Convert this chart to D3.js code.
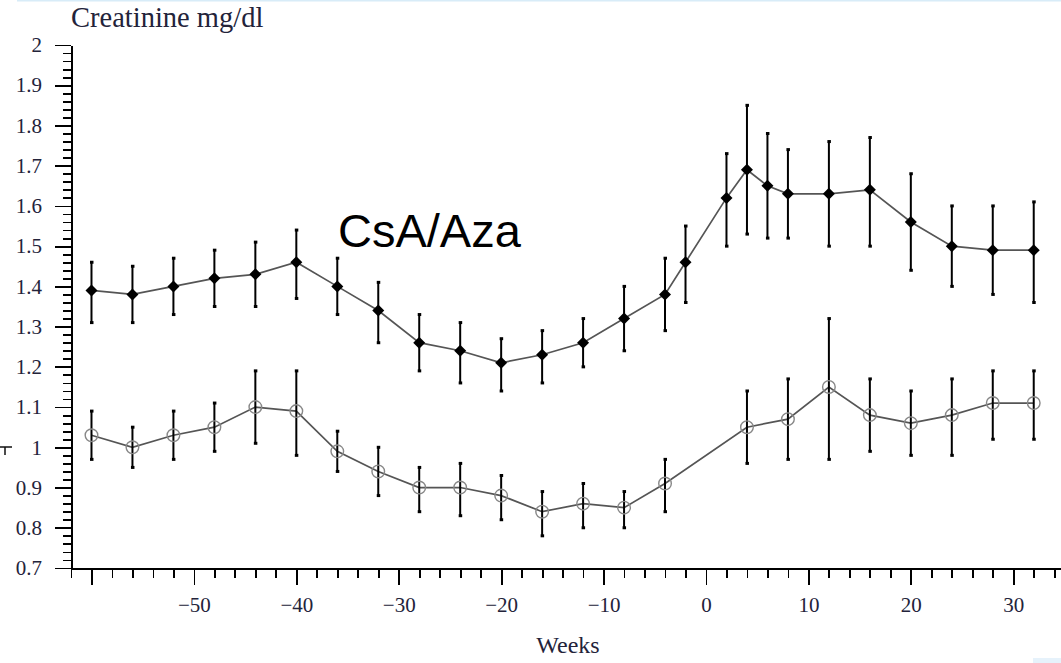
<!DOCTYPE html>
<html lang="en">
    <head>
        <meta charset="utf-8">
        <title>Creatinine mg/dl</title>
        <script type="text/javascript" src="https://cdn.jsdelivr.net/npm/d3@7"></script>
        <style type="text/css">
            body { margin: 0; background: #fff; }
            .axis path, .axis line {
                fill: none;
                stroke: black;
                shape-rendering: crispEdges;
            }
            .axis text {
                font-family: "Liberation Serif", "Times New Roman", serif;
                font-size: 21px;
                fill: #23233a;
            }
        </style>
    </head>
    <body>
        <script type="text/javascript">
            // weeks relative to conversion, CsA/Aza group (filled diamonds)
            var weeksA = [-60,-56,-52,-48,-44,-40,-36,-32,-28,-24,-20,-16,-12,-8,-4,-2,2,4,6,8,12,16,20,24,28,32];
            var meanA  = [1.39,1.38,1.40,1.42,1.43,1.46,1.40,1.34,1.26,1.24,1.21,1.23,1.26,1.32,1.38,1.46,1.62,1.69,1.65,1.63,1.63,1.64,1.56,1.50,1.49,1.49];
            var hiA    = [1.46,1.45,1.47,1.49,1.51,1.54,1.47,1.41,1.33,1.31,1.27,1.29,1.32,1.40,1.47,1.55,1.73,1.85,1.78,1.74,1.76,1.77,1.68,1.60,1.60,1.61];
            var loA    = [1.31,1.31,1.33,1.35,1.35,1.37,1.33,1.26,1.19,1.16,1.14,1.16,1.20,1.24,1.29,1.36,1.50,1.53,1.52,1.52,1.50,1.50,1.44,1.40,1.38,1.36];

            // second group (open circles)
            var weeksB = [-60,-56,-52,-48,-44,-40,-36,-32,-28,-24,-20,-16,-12,-8,-4,4,8,12,16,20,24,28,32];
            var meanB  = [1.03,1.00,1.03,1.05,1.10,1.09,0.99,0.94,0.90,0.90,0.88,0.84,0.86,0.85,0.91,1.05,1.07,1.15,1.08,1.06,1.08,1.11,1.11];
            var hiB    = [1.09,1.05,1.09,1.11,1.19,1.19,1.04,1.00,0.95,0.96,0.93,0.89,0.91,0.89,0.97,1.14,1.17,1.32,1.17,1.14,1.17,1.19,1.19];
            var loB    = [0.97,0.95,0.97,0.99,1.01,0.98,0.94,0.88,0.84,0.83,0.82,0.78,0.80,0.80,0.84,0.96,0.97,0.97,0.99,0.98,0.98,1.02,1.02];

            // tick values
            var xMajor = [-60,-50,-40,-30,-20,-10,0,10,20,30];
            var yMajor = [0.7,0.8,0.9,1.0,1.1,1.2,1.3,1.4,1.5,1.6,1.7,1.8,1.9,2.0];

            var width = 1061, height = 663;

            var svg = d3.select("body")
                        .append("svg")
                            .attr("width", width)
                            .attr("height", height);

            // scales - axis corner at (71,568)
            var x = d3.scaleLinear().domain([-62, 36]).range([71, 1074.7]);
            var y = d3.scaleLinear().domain([0.7, 2]).range([568, 45]);

            // thin light blue line along the top edge of the scan
            svg.append("rect")
                .attr("x", 17).attr("y", 0)
                .attr("width", width - 17).attr("height", 1.5)
                .style("fill", "#d8ecf8");
            svg.append("rect")
                .attr("x", 1033).attr("y", 658)
                .attr("width", 28).attr("height", 5)
                .style("fill", "#e6f2fb");

            // minor x ticks every 2 weeks
            svg.append("g")
                .attr("class", "axis")
                .attr("transform", "translate(0,568)")
                .call(d3.axisBottom(x).tickValues(d3.range(-62, 37, 2)).tickSize(10).tickSizeOuter(0).tickFormat(""))
                .call(function(g) { g.selectAll("line").style("stroke-width", 1.8); g.select(".domain").style("stroke-width", 2); });

            // major x ticks
            svg.append("g")
                .attr("class", "axis")
                .attr("transform", "translate(0,568)")
                .call(d3.axisBottom(x).tickValues(xMajor).tickSize(17).tickSizeOuter(0).tickPadding(12)
                    .tickFormat(function(d) { return d === -60 ? "" : d3.format("d")(d); }))
                .call(function(g) { g.select(".domain").remove(); g.selectAll("line").style("stroke-width", 1.8); });

            // minor y ticks every 0.02
            svg.append("g")
                .attr("class", "axis")
                .attr("transform", "translate(71,0)")
                .call(d3.axisLeft(y).tickValues(d3.range(0, 66).map(function(i) { return 0.7 + i * 0.02; })).tickSize(8).tickSizeOuter(0).tickFormat(""))
                .call(function(g) { g.selectAll("line").style("stroke-width", 1.8); g.select(".domain").style("stroke-width", 2); });

            // major y ticks
            svg.append("g")
                .attr("class", "axis")
                .attr("transform", "translate(71,0)")
                .call(d3.axisLeft(y).tickValues(yMajor).tickSize(16).tickSizeOuter(0).tickPadding(13)
                    .tickFormat(function(d) { return String(+d.toFixed(1)); }))
                .call(function(g) { g.select(".domain").remove(); g.selectAll("line").style("stroke-width", 1.8); });

            // title & axis label
            svg.append("text")
                .attr("x", 71)
                .attr("y", 27)
                .style("font-family", "'Liberation Serif', 'Times New Roman', serif")
                .style("font-size", "28.5px")
                .style("fill", "#23233a")
                .text("Creatinine mg/dl");

            // axis label near the bottom edge (pulled up so it stays whole)
            svg.append("text")
                .attr("x", 568)
                .attr("y", 653)
                .style("text-anchor", "middle")
                .style("font-family", "'Liberation Serif', 'Times New Roman', serif")
                .style("font-size", "24px")
                .style("fill", "#23233a")
                .text("Weeks");

            // little clipped mark at the left edge (rest of a rotated label)
            svg.append("path")
                .attr("d", "M0,447H12M5,447V455")
                .style("stroke", "#111")
                .style("stroke-width", 1.5)
                .style("fill", "none");

            var line = d3.line()
                .x(function(d) { return x(d.w); })
                .y(function(d) { return y(d.m); });

            function build(weeks, mean, hi, lo) {
                return weeks.map(function(w, i) { return {w: w, m: mean[i], hi: hi[i], lo: lo[i]}; });
            }

            var dataA = build(weeksA, meanA, hiA, loA);
            var dataB = build(weeksB, meanB, hiB, loB);

            function drawSeries(data) {
                svg.append("path")
                    .datum(data)
                    .attr("d", line)
                    .style("fill", "none")
                    .style("stroke", "#555")
                    .style("stroke-width", 1.7);

                var bars = svg.append("g").selectAll("g")
                    .data(data)
                    .enter().append("g");
                bars.append("line")
                    .attr("x1", function(d) { return x(d.w); })
                    .attr("x2", function(d) { return x(d.w); })
                    .attr("y1", function(d) { return y(d.hi); })
                    .attr("y2", function(d) { return y(d.lo); })
                    .style("stroke", "#000")
                    .style("stroke-width", 2);
                ["hi", "lo"].forEach(function(k) {
                    bars.append("line")
                        .attr("x1", function(d) { return x(d.w) - 1.5; })
                        .attr("x2", function(d) { return x(d.w) + 2; })
                        .attr("y1", function(d) { return y(d[k]); })
                        .attr("y2", function(d) { return y(d[k]); })
                        .style("stroke", "#000")
                        .style("stroke-width", 3);
                });
            }

            drawSeries(dataB);
            drawSeries(dataA);

            // open circles
            svg.append("g").selectAll("circle")
                .data(dataB)
                .enter().append("circle")
                    .attr("cx", function(d) { return x(d.w); })
                    .attr("cy", function(d) { return y(d.m); })
                    .attr("r", 6.3)
                    .style("fill", "none")
                    .style("stroke", "#888")
                    .style("stroke-width", 1.4);

            // filled diamonds
            svg.append("g").selectAll("path")
                .data(dataA)
                .enter().append("path")
                    .attr("d", d3.symbol().type(d3.symbolSquare).size(72))
                    .attr("transform", function(d) { return "translate(" + x(d.w) + "," + y(d.m) + ") rotate(45)"; })
                    .style("fill", "#000");

            // group label
            svg.append("text")
                .attr("x", 338)
                .attr("y", 247)
                .style("font-family", "'Liberation Sans', Arial, sans-serif")
                .style("font-size", "47px")
                .style("fill", "#000")
                .text("CsA/Aza");
        </script>
    </body>
</html>
